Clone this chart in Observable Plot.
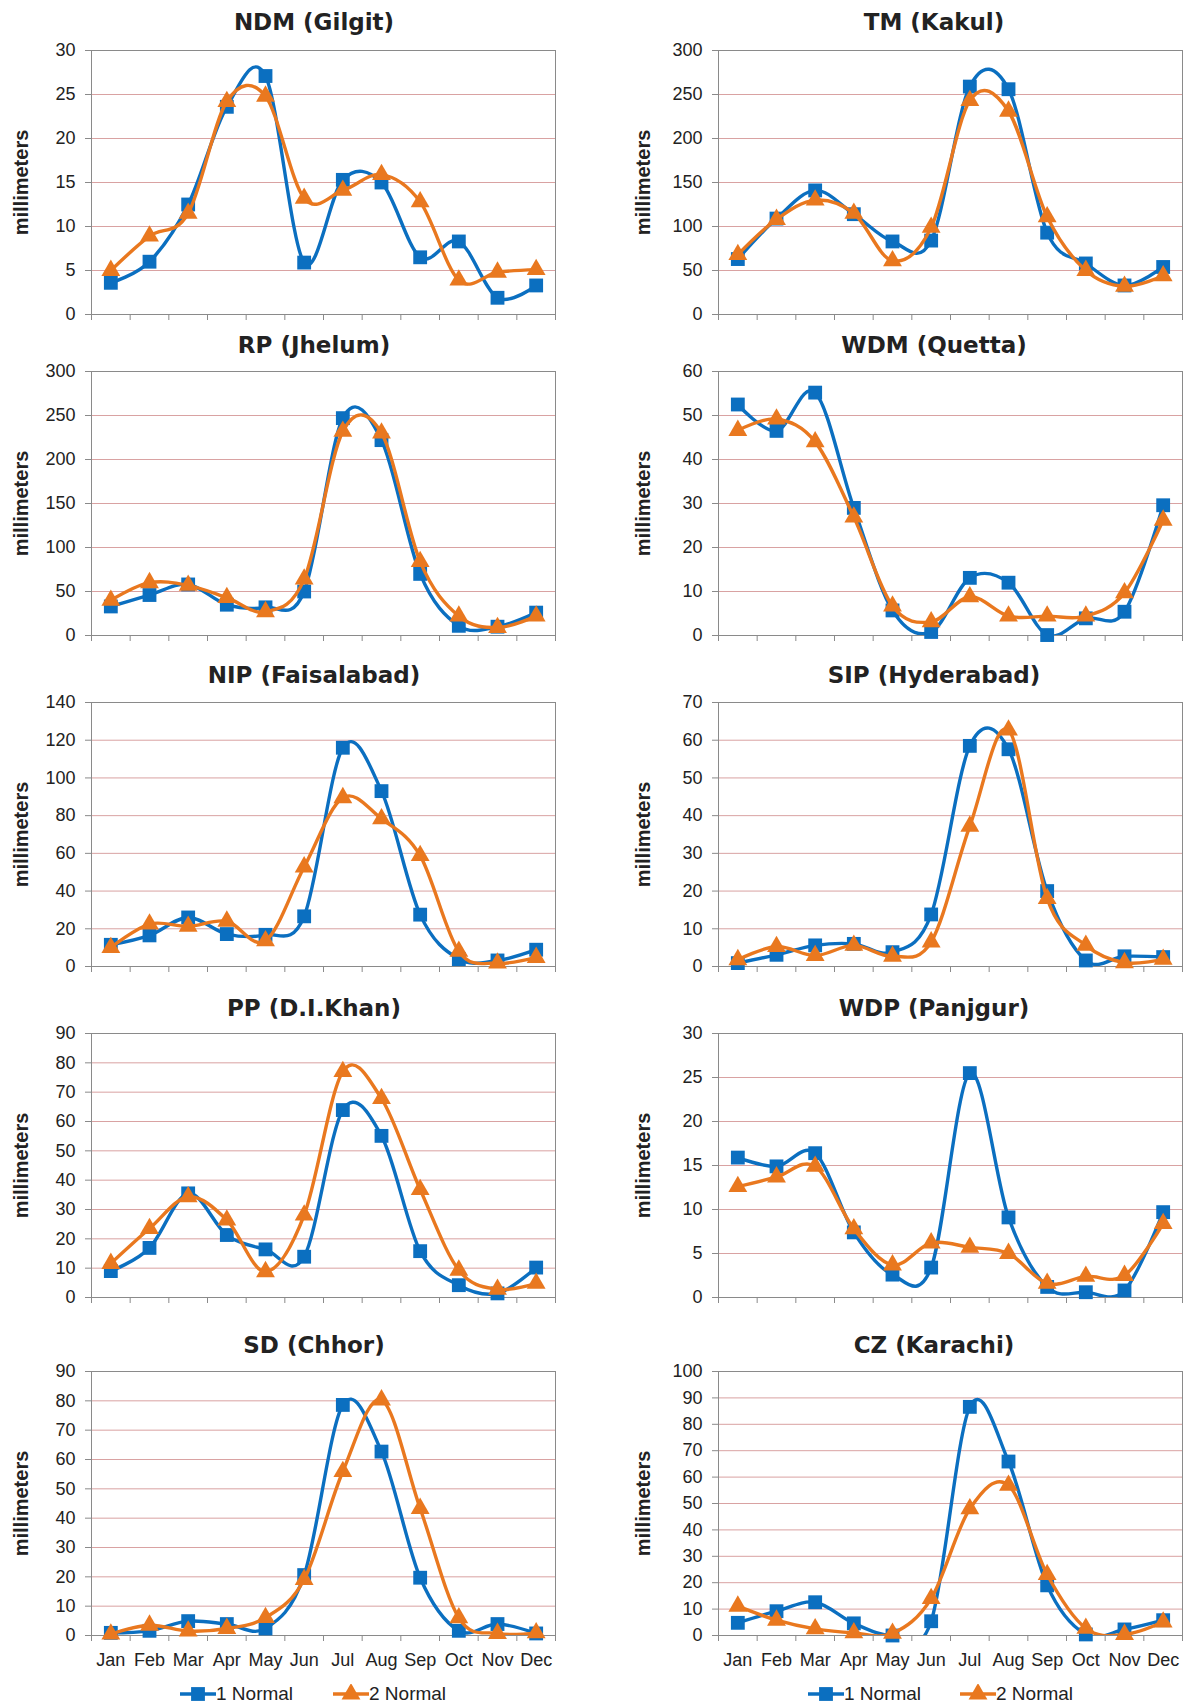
<!DOCTYPE html>
<html>
<head>
<meta charset="utf-8">
<script src="https://cdn.jsdelivr.net/npm/d3@7"></script>
<script src="https://cdn.jsdelivr.net/npm/@observablehq/plot@0.6"></script>
<style>
  html, body { margin: 0; padding: 0; background: #ffffff; }
  #root { position: relative; width: 1185px; height: 1704px; overflow: hidden; font-family: "Liberation Sans", Arial, sans-serif; color: #222; }
  .title { position: absolute; font-family: "DejaVu Sans", sans-serif; font-weight: bold; font-size: 23px; color: #222; white-space: nowrap; transform: translate(-50%, -50%); line-height: 1; }
  .panel { position: absolute; }
  .panel svg { overflow: visible; }
  .legend { position: absolute; display: flex; align-items: center; font-size: 19px; color: #222; white-space: nowrap; transform: translateY(-50%); }
  .legend svg { display: block; }
</style>
</head>
<body>
<div id="root"></div>
<script>
// ---- data (monthly rainfall, millimeters) ----
const months = ["Jan", "Feb", "Mar", "Apr", "May", "Jun", "Jul", "Aug", "Sep", "Oct", "Nov", "Dec"];
const seriesNames = ["1 Normal", "2 Normal"];
const titles = ["NDM (Gilgit)", "TM (Kakul)", "RP (Jhelum)", "WDM (Quetta)", "NIP (Faisalabad)",
                "SIP (Hyderabad)", "PP (D.I.Khan)", "WDP (Panjgur)", "SD (Chhor)", "CZ (Karachi)"];
const yMax  = [30, 300, 300, 60, 140, 70, 90, 30, 90, 100];
const yStep = [5, 50, 50, 10, 20, 10, 10, 5, 10, 10];

const ndm1 = [3.6, 6.0, 12.5, 23.6, 27.1, 5.9, 15.3, 15.0, 6.5, 8.3, 1.9, 3.3];
const ndm2 = [5.0, 8.9, 11.5, 24.2, 24.8, 13.2, 14.1, 15.9, 12.8, 3.9, 4.8, 5.1];
const tm1  = [63, 109, 141, 114, 83, 84, 259, 256, 93, 58, 33, 54];
const tm2  = [68, 108, 130, 115, 61, 99, 243, 231, 111, 50, 32, 44];
const rp1  = [33, 46, 58, 35, 32, 50, 247, 222, 70, 11, 10, 26];
const rp2  = [40, 60, 57, 43, 27, 64, 232, 230, 84, 22, 9, 22];
const wdm1 = [52.5, 46.5, 55.2, 29.0, 5.7, 0.8, 13.1, 12.0, 0.1, 3.9, 5.4, 29.6];
const wdm2 = [46.6, 49.2, 44.0, 26.9, 6.7, 3.1, 8.8, 4.4, 4.4, 4.4, 9.7, 26.2];
const nip1 = [11.5, 16.5, 26.0, 17.2, 16.8, 26.6, 116, 93, 27.5, 3.9, 3.2, 8.9];
const nip2 = [10.0, 22.5, 21.3, 24.0, 13.6, 52.8, 89.5, 78.3, 58.8, 8.0, 1.8, 4.8];
const sip1 = [0.9, 3.1, 5.6, 6.0, 3.8, 13.8, 58.5, 57.6, 20.0, 1.6, 2.7, 2.5];
const sip2 = [1.8, 5.3, 2.9, 5.6, 2.7, 6.5, 37.2, 62.7, 18.0, 5.6, 1.0, 1.9];
const pp1  = [9.0, 16.9, 35.5, 21.3, 16.4, 13.9, 63.9, 55.1, 15.8, 4.2, 1.4, 10.2];
const pp2  = [11.6, 23.5, 34.3, 26.4, 8.8, 28.1, 77.0, 67.8, 36.8, 9.3, 2.8, 4.8];
const wdp1 = [15.9, 14.9, 16.4, 7.4, 2.6, 3.4, 25.5, 9.1, 1.2, 0.6, 0.8, 9.7];
const wdp2 = [12.6, 13.7, 14.9, 7.8, 3.7, 6.2, 5.7, 5.0, 1.6, 2.4, 2.5, 8.4];
const sd1  = [0.9, 1.6, 4.9, 3.9, 2.4, 20.6, 78.6, 62.7, 19.7, 1.6, 3.9, 0.7];
const sd2  = [0.5, 3.5, 1.5, 2.4, 6.1, 19.1, 55.9, 80.3, 43.3, 6.0, 0.7, 0.9];
const cz1  = [4.8, 9.2, 12.6, 4.6, 0.0, 5.4, 86.6, 65.9, 19.0, 0.4, 2.3, 5.8];
const cz2  = [11.1, 5.8, 2.5, 1.0, 0.8, 14.0, 48.0, 56.9, 23.1, 2.7, 0.4, 5.1];

const series1 = [ndm1, tm1, rp1, wdm1, nip1, sip1, pp1, wdp1, sd1, cz1];
const series2 = [ndm2, tm2, rp2, wdm2, nip2, sip2, pp2, wdp2, sd2, cz2];

// ---- styling / layout ----
const BLUE = "#0b6fc0";
const ORANGE = "#e9781f";
const GRID = "#d9a2a2";
const AXIS = "#8a8a8a";
const SQ_R = 7.8, TRI_R = 7.0, LW = 3.4;
const cols = [
  {left: 0,   width: 592, ml: 91,  mr: 37, labelDx: -70, titleX: 314, leg: [180, 333]},
  {left: 592, width: 593, ml: 126, mr: 3,  labelDx: -75, titleX: 934, leg: [808, 960]}
];
const rowTop = [50, 371, 702, 1033, 1371];
const titleY = [22, 345, 675, 1008, 1345];
const frameH = 264;
const MT = 14;

const root = document.getElementById("root");

titles.forEach((t, k) => {
  const row = Math.floor(k / 2), col = k % 2;
  const c = cols[col];
  const bottom = row === 4;
  const MB = bottom ? 44 : 10;
  const ticks = d3.range(0, yMax[k] + yStep[k] / 2, yStep[k]);
  const edges = d3.range(0, 13).map(i => i + 0.5);
  const px = (d, i) => i + 1;
  const py = d => d;

  const chart = Plot.plot({
    width: c.width,
    height: MT + frameH + MB,
    marginLeft: c.ml, marginRight: c.mr, marginTop: MT, marginBottom: MB,
    style: {fontFamily: '"Liberation Sans", Arial, sans-serif', fontSize: "18px", background: "transparent", color: "#222"},
    x: {type: "linear", domain: [0.5, 12.5]},
    y: {domain: [0, yMax[k]]},
    marks: [
      Plot.ruleY(ticks.filter(v => v > 0 && v < yMax[k]), {stroke: GRID, strokeWidth: 1}),
      Plot.frame({stroke: AXIS, strokeWidth: 1}),
      Plot.axisY({ticks, tickSize: 6, tickPadding: 10, stroke: AXIS, fill: "#222", fontSize: 18, label: null, tickFormat: d => String(d)}),
      Plot.axisX({ticks: edges, tickSize: 6, tickFormat: () => "", stroke: AXIS, label: null}),
      bottom ? Plot.axisX({ticks: d3.range(1, 13), tickSize: 0, tickPadding: 18, tickFormat: d => months[d - 1], fill: "#222", fontSize: 18, label: null}) : null,
      Plot.text(["millimeters"], {frameAnchor: "left", dx: c.labelDx, rotate: -90, textAnchor: "middle", fontWeight: "bold", fontSize: 20, fill: "#222"}),
      Plot.line(series1[k], {x: px, y: py, curve: "cardinal", stroke: BLUE, strokeWidth: LW, clip: true}),
      Plot.dot(series1[k], {x: px, y: py, symbol: "square", r: SQ_R, fill: BLUE, stroke: "none"}),
      Plot.line(series2[k], {x: px, y: py, curve: "cardinal", stroke: ORANGE, strokeWidth: LW, clip: true}),
      Plot.dot(series2[k], {x: px, y: py, symbol: "triangle", r: TRI_R, fill: ORANGE, stroke: "none"})
    ]
  });

  const panel = document.createElement("div");
  panel.className = "panel";
  panel.style.left = c.left + "px";
  panel.style.top = (rowTop[row] - MT) + "px";
  panel.appendChild(chart);
  root.appendChild(panel);

  const tt = document.createElement("div");
  tt.className = "title";
  tt.textContent = t;
  tt.style.left = c.titleX + "px";
  tt.style.top = titleY[row] + "px";
  root.appendChild(tt);
});

// legends below each bottom chart
function swatch(color, shape) {
  const w = 36, h = 20;
  const svg = d3.create("svg").attr("width", w).attr("height", h);
  svg.append("line").attr("x1", 0).attr("x2", w).attr("y1", h / 2).attr("y2", h / 2)
    .attr("stroke", color).attr("stroke-width", LW);
  const sym = d3.symbol().type(shape === "square" ? d3.symbolSquare : d3.symbolTriangle)
    .size(shape === "square" ? Math.PI * SQ_R * SQ_R : Math.PI * TRI_R * TRI_R);
  svg.append("path").attr("d", sym()).attr("transform", `translate(${w / 2},${h / 2})`).attr("fill", color);
  return svg.node();
}
cols.forEach(c => {
  seriesNames.forEach((name, j) => {
    const item = document.createElement("div");
    item.className = "legend";
    item.style.left = c.leg[j] + "px";
    item.style.top = "1694px";
    item.appendChild(swatch(j === 0 ? BLUE : ORANGE, j === 0 ? "square" : "triangle"));
    const span = document.createElement("span");
    span.textContent = name;
    item.appendChild(span);
    root.appendChild(item);
  });
});
</script>
</body>
</html>
